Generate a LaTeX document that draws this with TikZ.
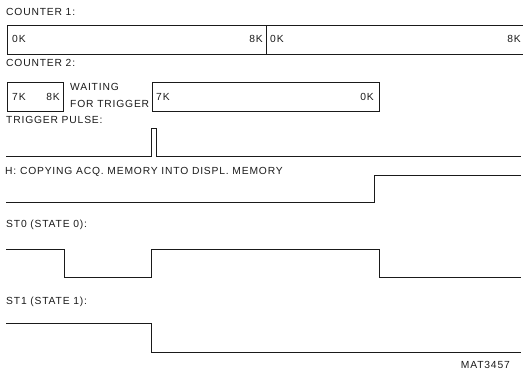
\documentclass[tikz,border=0pt]{standalone}
\usepackage{fontspec}
\setmainfont{Liberation Sans}[LetterSpace=8]
\usetikzlibrary{positioning}
\definecolor{ink}{HTML}{1A1A1A}
\tikzset{
  every node/.style={font=\fontsize{10.3}{12}\selectfont,text=ink},
  lbl/.style={anchor=west,inner sep=0pt},
  cbox/.style={draw=ink,line width=0.9pt,anchor=north west,minimum height=29pt,inner sep=0pt},
  wave/.style={draw=ink,line width=1pt},
}
\begin{document}
\begin{tikzpicture}[x=1pt,y=-1pt]
\useasboundingbox (0,0) rectangle (523,370);

% counter 1
\node[lbl] (c1lbl) at (6,12) {COUNTER 1:};
\node[cbox,minimum width=259pt] (c1a) at (7,24.5) {};
\node[cbox,minimum width=257pt] (c1b) at (266,24.5) {};
\node[lbl,right=5pt of c1a.west] (c1a0) {0K};
\node[lbl,left=4pt of c1a.east,anchor=east] (c1a8) {8K};
\node[lbl,right=4pt of c1b.west] (c1b0) {0K};
\node[lbl,left=3pt of c1b.east,anchor=east] (c1b8) {8K};

% counter 2
\node[lbl] (c2lbl) at (6,63) {COUNTER 2:};
\node[cbox,minimum width=56pt] (c2a) at (7,82) {};
\node[cbox,minimum width=227pt] (c2b) at (152,82) {};
\node[lbl,right=5pt of c2a.west] (c2a7) {7K};
\node[lbl,left=4pt of c2a.east,anchor=east] (c2a8) {8K};
\node[lbl] (wait) at (70,87) {WAITING};
\node[lbl] (fortrig) at (70,104) {FOR TRIGGER};
\node[lbl,right=4pt of c2b.west] (c2b7) {7K};
\node[lbl,left=6pt of c2b.east,anchor=east] (c2b0) {0K};

% trigger pulse
\node[lbl] (trlbl) at (6,119.5) {TRIGGER PULSE:};
\draw[wave] (6,156) -- (151,156) -- (151,128) -- (156,128) -- (156,156) -- (521,156);

% H: copying
\node[lbl] (hlbl) at (5,172) {H: COPYING ACQ. MEMORY INTO DISPL. MEMORY};
\draw[wave] (6,202.5) -- (374,202.5) -- (374,175) -- (521,175);

% state 0
\node[lbl] (s0lbl) at (6,225) {ST0 (STATE 0):};
\draw[wave] (6,249) -- (64,249) -- (64,277) -- (151,277) -- (151,249) -- (379,249) -- (379,277.5) -- (521,277.5);

% state 1
\node[lbl] (s1lbl) at (6,301.5) {ST1 (STATE 1):};
\draw[wave] (6,323.5) -- (151,323.5) -- (151,352) -- (521,352);

\node[anchor=east,inner sep=0pt] (mat) at (510,364.5) {MAT3457};
\end{tikzpicture}
\end{document}
